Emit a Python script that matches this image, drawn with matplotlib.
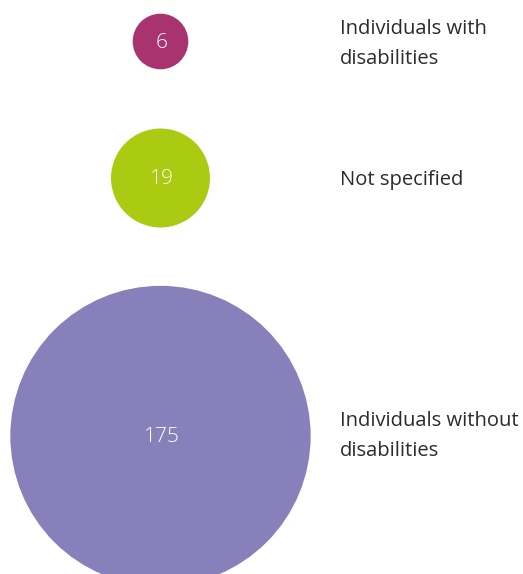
import matplotlib
matplotlib.use("Agg")
import matplotlib.pyplot as plt
from matplotlib.patches import Circle
import numpy as np

categories = ["Individuals with\ndisabilities", "Not specified", "Individuals without\ndisabilities"]
values = [6, 19, 175]
colors = ["#A8336E", "#AACB12", "#8780BB"]

# layout (pixels)
W, H = 523, 574
cx = 160.5
cys = [41.5, 178, 436]
k = 11.35
label_x = 340
label_cys = [44, 180, 436]

fig = plt.figure(figsize=(W / 100, H / 100), dpi=100)
ax = fig.add_axes([0, 0, 1, 1])
ax.set_xlim(0, W)
ax.set_ylim(H, 0)
ax.set_aspect("equal")
ax.axis("off")

for cat, v, c, cy, ly in zip(categories, values, colors, cys, label_cys):
    r = k * np.sqrt(v)
    ax.add_patch(Circle((cx, cy), r, facecolor=c, edgecolor="none"))
    ax.text(cx + 1, cy + 1, str(v), ha="center", va="center", color="white",
            fontsize=15, family="Open Sans", fontweight="light")
    ax.text(label_x, ly, cat, ha="left", va="center", color="#2b2b2b",
            fontsize=14.5, family="Open Sans", linespacing=1.6)

fig.savefig("out.png", dpi=100)
